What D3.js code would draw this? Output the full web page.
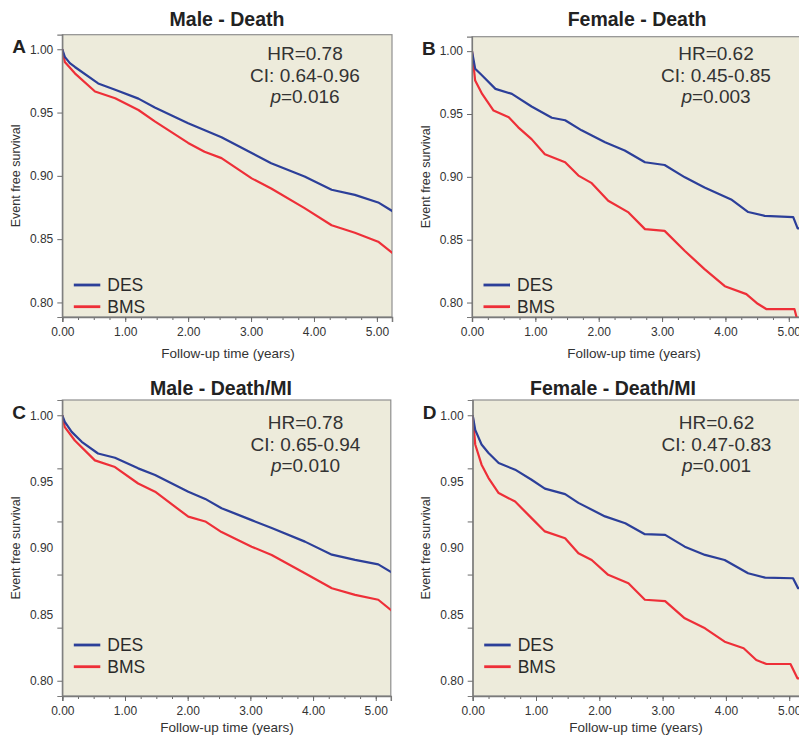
<!DOCTYPE html>
<html>
<head>
<meta charset="utf-8">
<script src="https://cdn.jsdelivr.net/npm/d3@7"></script>
<style>
  body { margin: 0; background: #fff; }
  svg text { font-family: "Liberation Sans", Arial, sans-serif; }
</style>
</head>
<body>
<div id="chart"></div>
<script>
// ---- data: [years, event free survival] ----
const desMaleDeath = [[0,1],[0.04,0.994],[0.12,0.989],[0.20,0.986],[0.57,0.973],[0.84,0.968],[1.21,0.961],[1.47,0.954],[2.00,0.9416],[2.53,0.9305],[3.01,0.918],[3.32,0.910],[3.85,0.8995],[4.28,0.889],[4.65,0.885],[5.02,0.879],[5.25,0.872]];
const bmsMaleDeath = [[0,1],[0.04,0.990],[0.20,0.981],[0.52,0.9666],[0.84,0.9613],[1.21,0.952],[1.47,0.943],[2.00,0.926],[2.26,0.919],[2.53,0.914],[3.01,0.898],[3.32,0.890],[3.85,0.8745],[4.28,0.861],[4.65,0.855],[5.02,0.848],[5.25,0.839]];

const desFemaleDeath = [[0,1],[0.05,0.986],[0.16,0.9806],[0.37,0.970],[0.63,0.966],[0.94,0.956],[1.26,0.947],[1.47,0.945],[1.73,0.937],[2.10,0.9275],[2.41,0.921],[2.73,0.9116],[3.04,0.9094],[3.36,0.8996],[3.67,0.8916],[4.09,0.882],[4.36,0.872],[4.62,0.869],[5.07,0.868],[5.14,0.859],[5.25,0.859]];
const bmsFemaleDeath = [[0,1],[0.05,0.9766],[0.16,0.966],[0.34,0.9527],[0.58,0.9474],[0.73,0.9394],[0.94,0.930],[1.15,0.918],[1.47,0.9116],[1.68,0.901],[1.89,0.895],[2.15,0.881],[2.47,0.8717],[2.73,0.8584],[3.04,0.857],[3.36,0.841],[3.67,0.8266],[3.99,0.813],[4.33,0.8067],[4.51,0.799],[4.65,0.7947],[5.09,0.7947],[5.14,0.785]];

const desMaleDeathMI = [[0,1],[0.04,0.995],[0.15,0.9875],[0.31,0.980],[0.57,0.9712],[0.84,0.968],[1.21,0.960],[1.48,0.955],[2.01,0.9424],[2.28,0.937],[2.54,0.930],[3.02,0.921],[3.34,0.915],[3.87,0.9048],[4.30,0.895],[4.67,0.891],[5.04,0.8877],[5.26,0.8815]];
const bmsMaleDeathMI = [[0,1],[0.04,0.991],[0.20,0.981],[0.52,0.966],[0.84,0.961],[1.21,0.9486],[1.48,0.9424],[2.01,0.9236],[2.28,0.920],[2.54,0.912],[3.02,0.901],[3.34,0.8947],[3.87,0.881],[4.30,0.8697],[4.67,0.8647],[5.04,0.861],[5.26,0.8526]];

const desFemaleDeathMI = [[0,1],[0.04,0.989],[0.14,0.978],[0.25,0.9716],[0.41,0.964],[0.67,0.959],[0.93,0.9514],[1.14,0.9447],[1.46,0.9406],[1.67,0.934],[2.09,0.9238],[2.41,0.9187],[2.72,0.9104],[3.04,0.9099],[3.35,0.901],[3.67,0.8948],[3.98,0.891],[4.35,0.881],[4.62,0.8777],[5.06,0.8772],[5.14,0.8697],[5.25,0.8697]];
const bmsFemaleDeathMI = [[0,1],[0.04,0.978],[0.14,0.9628],[0.25,0.9527],[0.41,0.9414],[0.67,0.935],[0.93,0.9225],[1.14,0.9125],[1.46,0.9074],[1.67,0.896],[1.88,0.891],[2.14,0.8798],[2.46,0.8735],[2.72,0.861],[3.04,0.860],[3.35,0.847],[3.67,0.8395],[3.98,0.8294],[4.28,0.8245],[4.48,0.8156],[4.64,0.8126],[5.02,0.8126],[5.13,0.8018],[5.25,0.8018]];

// axis ticks / labels
const xMajor = [0, 1, 2, 3, 4, 5];
const xMinor = d3.range(0, 5.25, 0.25);
const yLabels = [1.00, 0.95, 0.90, 0.85, 0.80];
const yTicksTop = [1.00, 0.95, 0.90, 0.85, 0.80];
const yTicksBottom = [1.00, 0.96, 0.92, 0.88, 0.84, 0.80];   // bottom row ticks don't line up with labels

const statsMaleDeath = ["HR=0.78", "CI: 0.64-0.96", "0.016"];
const statsFemaleDeath = ["HR=0.62", "CI: 0.45-0.85", "0.003"];
const statsMaleDeathMI = ["HR=0.78", "CI: 0.65-0.94", "0.010"];
const statsFemaleDeathMI = ["HR=0.62", "CI: 0.47-0.83", "0.001"];

const seriesNames = ["DES", "BMS"];
const seriesColors = ["#2c3f99", "#ee2f38"];

// ---- layout ----
const W = 799, H = 740;
const yDomain = [0.7885, 1.0115];
const xMax = 5.24;

const panels = [
  { letter: "A", title: "Male - Death", data: [desMaleDeath, bmsMaleDeath], stats: statsMaleDeath,
    left: 62.3, right: 392, top: 34.7, bottom: 317, yTicks: yTicksTop, titleX: 227, titleY: 26, statX: 305, statY: 60, legY: 285, xTitleX: 228, xTitle: 357.5, yTitleX: 20 },
  { letter: "B", title: "Female - Death", data: [desFemaleDeath, bmsFemaleDeath], stats: statsFemaleDeath,
    left: 472, right: 804, top: 36.7, bottom: 317, yTicks: yTicksTop, titleX: 637, titleY: 26, statX: 716, statY: 60, legY: 285, xTitleX: 634, xTitle: 357.5, yTitleX: 430 },
  { letter: "C", title: "Male - Death/MI", data: [desMaleDeathMI, bmsMaleDeathMI], stats: statsMaleDeathMI,
    left: 62.3, right: 390.8, top: 400, bottom: 696, yTicks: yTicksBottom, titleX: 221, titleY: 395, statX: 305.5, statY: 429, legY: 645, xTitleX: 227, xTitle: 731.5, yTitleX: 20 },
  { letter: "D", title: "Female - Death/MI", data: [desFemaleDeathMI, bmsFemaleDeathMI], stats: statsFemaleDeathMI,
    left: 472.7, right: 804.4, top: 400, bottom: 696, yTicks: yTicksBottom, titleX: 613, titleY: 395, statX: 716.5, statY: 429, legY: 645, xTitleX: 636, xTitle: 731.5, yTitleX: 430 }
];

const svg = d3.select("#chart").append("svg")
  .attr("width", W).attr("height", H)
  .attr("viewBox", `0 0 ${W} ${H}`);

panels.forEach(function (p, i) {
  const x = d3.scaleLinear().domain([0, xMax]).range([p.left, p.right]);
  const y = d3.scaleLinear().domain(yDomain).range([p.bottom, p.top]);
  const g = svg.append("g").attr("class", "panel");

  // plot background + frame
  g.append("rect")
    .attr("x", p.left).attr("y", p.top)
    .attr("width", p.right - p.left).attr("height", p.bottom - p.top)
    .attr("fill", "#edebdb").attr("stroke", "#8f8f8f").attr("stroke-width", 1.2);

  g.append("clipPath").attr("id", "clip" + i)
    .append("rect")
    .attr("x", p.left).attr("y", p.top)
    .attr("width", p.right - p.left).attr("height", p.bottom - p.top);

  // curves (BMS drawn first, DES on top)
  const line = d3.line().x(d => x(d[0])).y(d => y(d[1]));
  g.append("g").attr("clip-path", `url(#clip${i})`)
    .selectAll("path").data(p.data.slice().reverse()).enter()
    .append("path")
    .attr("d", line)
    .attr("fill", "none")
    .attr("stroke", (d, j) => seriesColors[1 - j])
    .attr("stroke-width", 2.2)
    .attr("stroke-linejoin", "round");

  // x axis: minor then major ticks
  g.append("g").attr("transform", `translate(0,${p.bottom})`)
    .call(d3.axisBottom(x).tickValues(xMinor).tickSize(3).tickFormat(""))
    .call(a => a.select(".domain").remove());
  const xa = g.append("g").attr("transform", `translate(0,${p.bottom})`)
    .call(d3.axisBottom(x).tickValues(xMajor).tickSize(5).tickPadding(5).tickFormat(d3.format(".2f")));
  xa.select(".domain").attr("stroke", "#7a7a7a").attr("stroke-width", 1.5);

  // y axis: tick marks and labels drawn separately (C/D labels don't sit on ticks)
  g.append("g").attr("transform", `translate(${p.left},0)`)
    .call(d3.axisLeft(y).tickValues(p.yTicks).tickSize(5).tickFormat(""))
    .call(a => a.select(".domain").attr("stroke", "#7a7a7a").attr("stroke-width", 1.2));
  g.append("g").attr("transform", `translate(${p.left},0)`)
    .call(d3.axisLeft(y).tickValues(yLabels).tickSize(0).tickPadding(9).tickFormat(d3.format(".2f")))
    .call(a => a.select(".domain").remove())
    .call(a => a.selectAll(".tick line").remove());

  svg.selectAll(".tick line").attr("stroke", "#6a6a6a");
  g.selectAll(".tick text").attr("font-size", 12).attr("fill", "#333");

  // axis titles
  g.append("text")
    .attr("x", p.xTitleX).attr("y", p.xTitle)
    .attr("text-anchor", "middle").attr("font-size", 13.5).attr("fill", "#333")
    .text("Follow-up time (years)");
  g.append("text")
    .attr("transform", `translate(${p.yTitleX},${(p.top + p.bottom) / 2}) rotate(-90)`)
    .attr("text-anchor", "middle").attr("font-size", 12.5).attr("fill", "#333")
    .text("Event free survival");

  // panel title and letter
  g.append("text")
    .attr("x", p.titleX).attr("y", p.titleY)
    .attr("text-anchor", "middle").attr("font-size", 19.5).attr("font-weight", "bold").attr("fill", "#222")
    .text(p.title);
  g.append("text")
    .attr("x", p.left - 50).attr("y", p.top + 18.5)
    .attr("font-size", 19).attr("font-weight", "bold").attr("fill", "#222")
    .text(p.letter);

  // stats block
  const st = g.append("g").attr("font-size", 19).attr("fill", "#333").attr("text-anchor", "middle");
  st.append("text").attr("x", p.statX).attr("y", p.statY).text(p.stats[0]);
  st.append("text").attr("x", p.statX).attr("y", p.statY + 21.5).text(p.stats[1]);
  const pt = st.append("text").attr("x", p.statX).attr("y", p.statY + 42.5);
  pt.append("tspan").attr("font-style", "italic").text("p");
  pt.append("tspan").text("=" + p.stats[2]);

  // legend
  const lg = g.append("g").attr("transform", `translate(${p.left + 11.5},${p.legY})`);
  seriesNames.forEach(function (name, j) {
    lg.append("line")
      .attr("x1", 0).attr("x2", 26.5).attr("y1", j * 21.7).attr("y2", j * 21.7)
      .attr("stroke", seriesColors[j]).attr("stroke-width", 2.8);
    lg.append("text")
      .attr("x", 33.5).attr("y", j * 21.7 + 6)
      .attr("font-size", 17.5).attr("fill", "#2a2a2a")
      .text(name);
  });
});
</script>
</body>
</html>
